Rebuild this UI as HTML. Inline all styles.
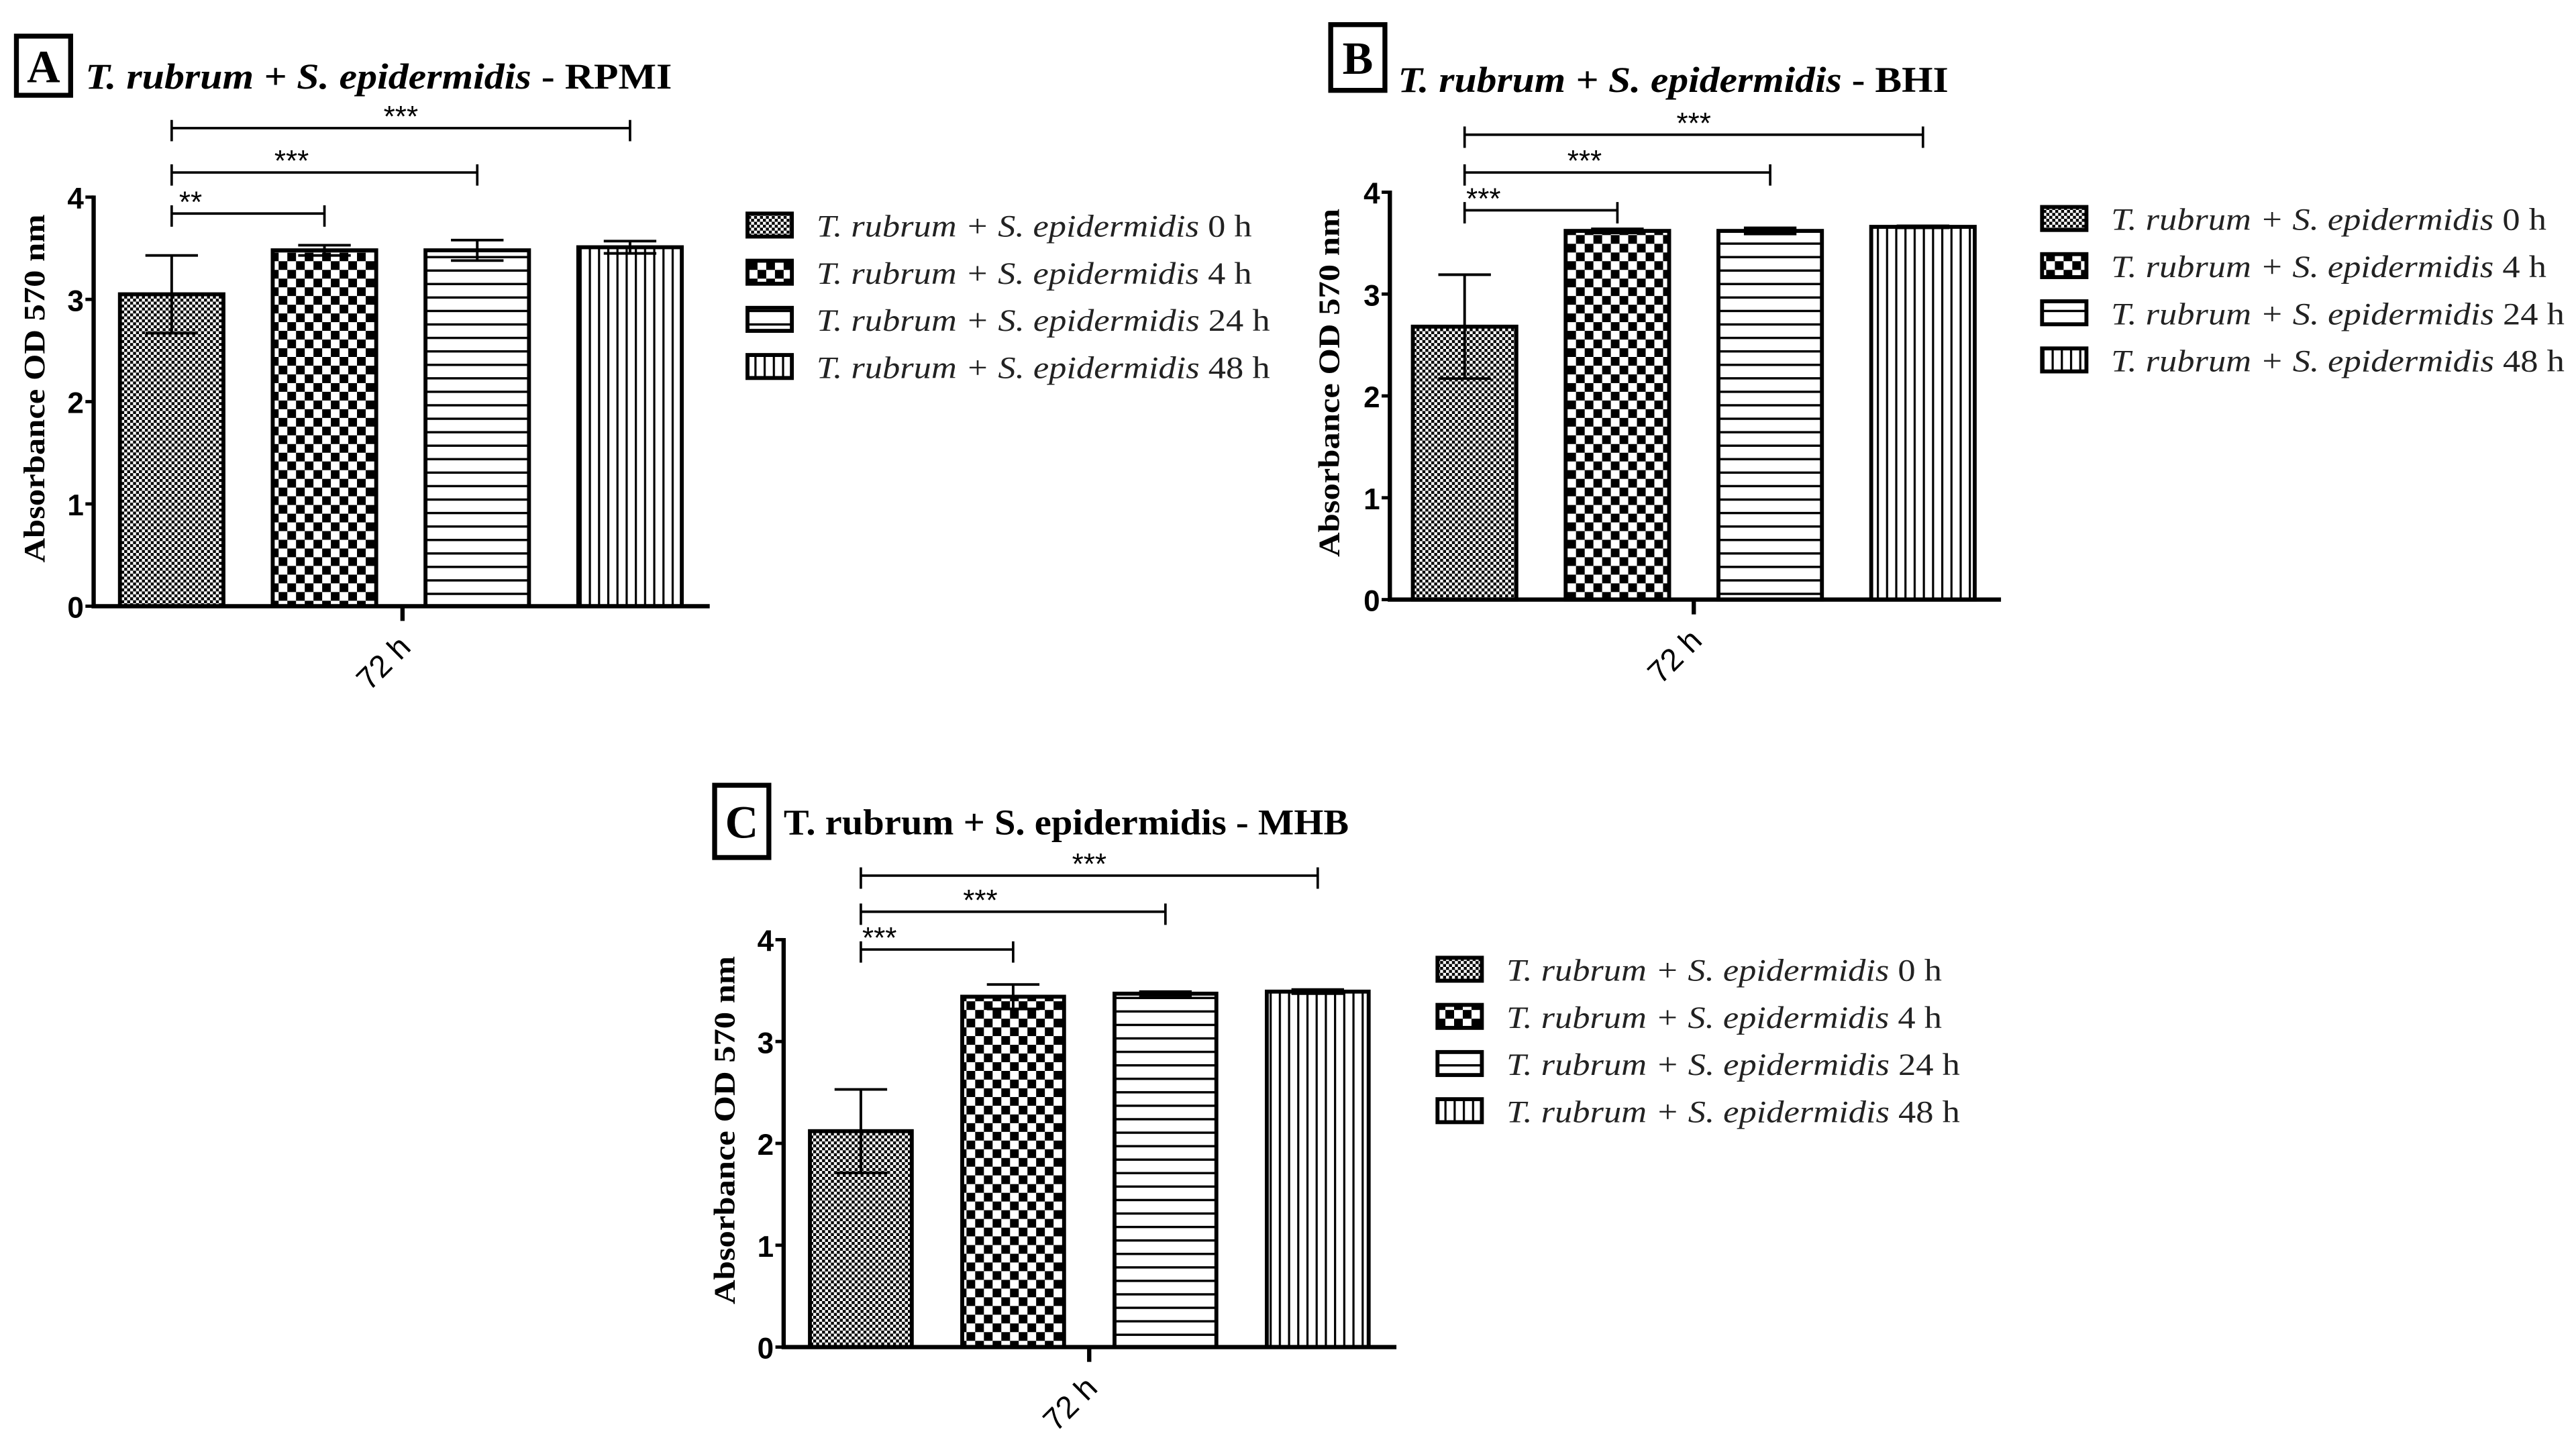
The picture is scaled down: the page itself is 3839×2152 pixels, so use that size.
<!DOCTYPE html>
<html><head><meta charset="utf-8">
<style>
html,body{margin:0;padding:0;background:#fff;}
svg{display:block;}
</style></head>
<body>
<svg id="fig" xmlns="http://www.w3.org/2000/svg" width="3839" height="2152" viewBox="0 0 1568 879" preserveAspectRatio="none">
<defs>
<pattern id="pFine" patternUnits="userSpaceOnUse" width="3.6" height="3.6"><rect width="3.6" height="3.6" fill="#fff"/><rect width="1.8" height="1.8" fill="#000"/><rect x="1.8" y="1.8" width="1.8" height="1.8" fill="#000"/></pattern>
<pattern id="pBig" patternUnits="userSpaceOnUse" width="10.6" height="10.6"><rect width="10.6" height="10.6" fill="#fff"/><rect width="5.3" height="5.3" fill="#000"/><rect x="5.3" y="5.3" width="5.3" height="5.3" fill="#000"/></pattern>
<pattern id="pHor" patternUnits="userSpaceOnUse" width="8" height="8.2"><rect width="8" height="8.2" fill="#fff"/><rect y="0" width="8" height="1.4" fill="#000"/></pattern>
<pattern id="pVer" patternUnits="userSpaceOnUse" width="5.6" height="8"><rect width="5.6" height="8" fill="#fff"/><rect x="0" width="1.3" height="8" fill="#000"/></pattern>
</defs>
</svg>
<script>
// ---- data ----
const seriesLabels = ["0 h","4 h","24 h","48 h"];
const categories = ["72 h"];
const yTicks = [0,1,2,3,4];
const valuesA = [3.05,3.48,3.48,3.51];
const errA = [0.38,0.05,0.10,0.06];
const valuesB = [2.68,3.62,3.62,3.66];
const errB = [0.51,0.02,0.03,0.01];
const valuesC = [2.12,3.44,3.47,3.49];
const errC = [0.41,0.12,0.02,0.02];
const sigA = ["**","***","***"];
const sigB = ["***","***","***"];
const sigC = ["***","***","***"];
const titleMain = ["T. rubrum + S. epidermidis","T. rubrum + S. epidermidis","T. rubrum + S. epidermidis"];
const titleMedium = [" - RPMI"," - BHI"," - MHB"];

const NS="http://www.w3.org/2000/svg";
const svg=document.getElementById('fig');
const fills=["url(#pFine)","url(#pBig)","url(#pHor)","url(#pVer)"];
const legLen=[265,265,276,276];
function mk(tag,attrs,parent){const e=document.createElementNS(NS,tag);for(const k in attrs)e.setAttribute(k,attrs[k]);(parent||svg).appendChild(e);return e;}

const panels=[
 {id:'a',idx:0,letter:'A',vals:valuesA,err:errA,sig:sigA,italic:true,ax:57,y0:369,y4:120,xEnd:432,bar0:73,step:93,bw:63,box:[10,22,33,36],tx:52,ty:54,tl:357,brY:[130,105,78],leg:[455,137,497],tick:245,ylx:20},
 {id:'b',idx:1,letter:'B',vals:valuesB,err:errB,sig:sigB,italic:true,ax:846,y0:365,y4:117,xEnd:1218,bar0:860,step:93,bw:63,box:[810,15,33,40],tx:851,ty:56,tl:335,brY:[128,105,82],leg:[1243,133,1285],tick:1031,ylx:808},
 {id:'c',idx:2,letter:'C',vals:valuesC,err:errC,sig:sigC,italic:false,ax:477,y0:820,y4:572,xEnd:850,bar0:493,step:92.7,bw:62,box:[435,478,33,44],tx:477,ty:508,tl:344,brY:[578,555,533],leg:[875,590,917],tick:663,ylx:440}
];

panels.forEach(p=>{
 const g=mk('g',{});
 
 
 const yScale=v=>p.y0-(p.y0-p.y4)*v/4;
 const xBar=i=>p.bar0+i*p.step;
 const lb=mk('rect',{x:p.box[0],y:p.box[1],width:p.box[2],height:p.box[3],fill:'#fff',stroke:'#000','stroke-width':3},g);
 
 
 const lt=mk('text',{x:p.box[0]+p.box[2]/2,y:p.box[1]+p.box[3]/2+10,'text-anchor':'middle','font-family':'Liberation Serif, serif','font-size':28,'font-weight':'bold'},g);
 lt.textContent=p.letter;
 
 
 const tt=mk('text',{x:p.tx,y:p.ty,'font-family':'Liberation Serif, serif','font-size':22,'font-weight':'bold',textLength:p.tl,lengthAdjust:'spacingAndGlyphs'},g);
 
 
 const t1=mk('tspan',{'font-style':p.italic?'italic':'normal'},tt); t1.textContent=titleMain[p.idx];
 const t2=mk('tspan',{},tt); t2.textContent=titleMedium[p.idx];
 p.vals.forEach((v,i)=>{
  const r=mk('rect',{x:xBar(i),y:yScale(v),width:p.bw,height:p.y0-yScale(v),fill:fills[i],stroke:'#000','stroke-width':2.4},g);
  
  
  const cx=xBar(i)+p.bw/2, hi=yScale(v+p.err[i]), lo=yScale(v-p.err[i]);
  const eb=mk('path',{d:`M${cx},${lo}L${cx},${hi}M${cx-16},${hi}L${cx+16},${hi}M${cx-16},${lo}L${cx+16},${lo}`,stroke:'#000','stroke-width':1.6,fill:'none'},g);
  
  
 });
 const ax=mk('path',{d:`M${p.ax},${p.y4-1}L${p.ax},${p.y0}L${p.xEnd},${p.y0}M${p.tick},${p.y0}L${p.tick},${p.y0+9}`,stroke:'#000','stroke-width':2.6,fill:'none'},g);
 
 
 yTicks.forEach(t=>{
  const y=yScale(t);
  const tk=mk('line',{x1:p.ax-5,x2:p.ax,y1:y,y2:y,stroke:'#000','stroke-width':2},g);
  
  
  const tl=mk('text',{x:p.ax-6,y:y+7,'text-anchor':'end','font-family':'Liberation Sans, sans-serif','font-size':18,'font-weight':'bold'},g);
  tl.textContent=t;
  
  
 });
 const yl=mk('text',{x:0,y:0,transform:`translate(${p.ylx+7},${(p.y0+p.y4)/2-8}) rotate(-90)`,'text-anchor':'middle','font-family':'Liberation Serif, serif','font-size':18,'font-weight':'bold',textLength:212,lengthAdjust:'spacingAndGlyphs'},g);
 yl.textContent='Absorbance OD 570 nm';
 
 
 const xl=mk('text',{x:0,y:0,transform:`translate(${p.tick+6},${p.y0+26}) rotate(-45)`,'text-anchor':'end','font-family':'Liberation Sans, sans-serif','font-size':19},g);
 xl.textContent=categories[0];
 
 
 p.sig.forEach((s,k)=>{
  const x1=xBar(0)+p.bw/2, x2=xBar(k+1)+p.bw/2, y=p.brY[k];
  const br=mk('path',{d:`M${x1},${y-5}L${x1},${y+8}M${x1},${y}L${x2},${y}M${x2},${y-5}L${x2},${y+8}`,stroke:'#000','stroke-width':1.5,fill:'none'},g);
  
  
  const st=mk('text',{x:(x1+x2)/2-(k===2?0:(k===1?20:35)),y:y-1,'text-anchor':'middle','font-family':'Liberation Sans, sans-serif','font-size':18},g);
  st.textContent=s;
  
  
 });
 seriesLabels.forEach((lab,i)=>{
  const y=p.leg[1]+i*28.7;
  const sw=mk('rect',{x:p.leg[0],y:y-7,width:27,height:14,fill:fills[i],stroke:'#000','stroke-width':2.4},g);
  
  
  const lt2=mk('text',{x:p.leg[2],y:y+7,'font-family':'Liberation Serif, serif','font-size':19,fill:'#222',textLength:legLen[i],lengthAdjust:'spacingAndGlyphs'},g);
  
  
  const a=mk('tspan',{'font-style':'italic'},lt2); a.textContent='T. rubrum + S. epidermidis ';
  const b=mk('tspan',{},lt2); b.textContent=lab;
 });
});
</script>
</body></html>
